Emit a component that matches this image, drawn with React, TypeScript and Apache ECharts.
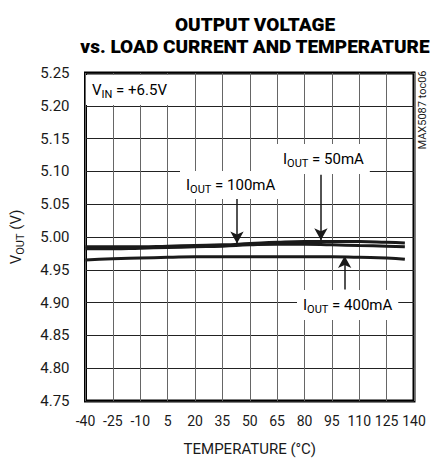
import React, { useEffect, useRef } from "react";
import * as echarts from "echarts";

const temps = [-40, -25, -10, 5, 20, 35, 50, 65, 80, 95, 110, 125, 135];
const v50mA = [4.985, 4.985, 4.985, 4.986, 4.987, 4.988, 4.990, 4.992, 4.993, 4.993, 4.993, 4.992, 4.991];
const v100mA = [4.982, 4.982, 4.983, 4.984, 4.985, 4.986, 4.988, 4.989, 4.989, 4.988, 4.987, 4.986, 4.985];
const v400mA = [4.965, 4.967, 4.968, 4.969, 4.970, 4.970, 4.970, 4.970, 4.970, 4.970, 4.969, 4.968, 4.966];

const titleLines = ["OUTPUT VOLTAGE", "vs. LOAD CURRENT AND TEMPERATURE"];
const xName = "TEMPERATURE (°C)";
const watermark = "MAX5087 toc06";

const FONT = "Roboto, 'Liberation Sans Narrow', sans-serif";
const INK = "#1a1a1a";

const subRich = {
  a: { fontSize: 15, fontFamily: FONT, color: INK, lineHeight: 20, verticalAlign: "middle" as const },
  s: { fontSize: 11, fontFamily: FONT, color: INK, lineHeight: 20, verticalAlign: "bottom" as const },
};

function arrowLine(from: [number, number], to: [number, number]) {
  return {
    silent: true,
    symbol: ["none", "arrow"],
    symbolSize: [10, 12],
    label: { show: false },
    lineStyle: { color: INK, width: 1.5, type: "solid" },
    data: [[{ coord: from }, { coord: to }]],
  };
}

export default function App() {
  const ref = useRef<HTMLDivElement>(null);
  useEffect(() => {
    if (!ref.current) return;
    const chart = echarts.init(ref.current, undefined, { renderer: "svg" });
    const mk = (vals: number[]) => temps.map((t, i) => [t, vals[i]]);
    chart.setOption({
      animation: false,
      backgroundColor: "#fff",
      title: {
        text: titleLines.join("\n"),
        left: 250,
        textAlign: "center",
        top: 8,
        textStyle: { fontFamily: FONT, fontWeight: 900, fontSize: 19, lineHeight: 22, color: "#000" },
      },
      grid: {
        left: 85,
        right: 22,
        top: 73,
        bottom: 59,
        show: true,
        borderColor: "#000",
        borderWidth: 3,
        containLabel: false,
      },
      xAxis: {
        type: "value",
        min: -40,
        max: 140,
        interval: 15,
        name: xName,
        nameLocation: "middle",
        nameGap: 40,
        nameTextStyle: { fontFamily: FONT, fontSize: 15, color: INK },
        axisLine: { show: false },
        axisTick: { show: false },
        axisLabel: { fontFamily: FONT, fontSize: 14, color: INK, margin: 13 },
        splitLine: { show: true, lineStyle: { color: "#666", width: 1 } },
      },
      yAxis: {
        type: "value",
        min: 4.75,
        max: 5.25,
        interval: 0.05,
        name: "{a|V}{s|OUT}{a| (V)}",
        nameLocation: "middle",
        nameRotate: 90,
        nameGap: 60,
        nameTextStyle: { rich: subRich },
        axisLine: { show: false },
        axisTick: { show: false },
        axisLabel: {
          fontFamily: FONT,
          fontSize: 15,
          color: INK,
          margin: 16,
          formatter: (v: number) => v.toFixed(2),
        },
        splitLine: { show: true, lineStyle: { color: "#222", width: 1 } },
      },
      series: [
        {
          name: "50mA",
          type: "line",
          data: mk(v50mA),
          smooth: true,
          showSymbol: false,
          symbol: "none",
          lineStyle: { color: INK, width: 3 },
          markLine: arrowLine([89, 5.095], [89, 4.995]),
        },
        {
          name: "100mA",
          type: "line",
          data: mk(v100mA),
          smooth: true,
          showSymbol: false,
          symbol: "none",
          lineStyle: { color: INK, width: 3 },
          markLine: arrowLine([43, 5.060], [43, 4.990]),
        },
        {
          name: "400mA",
          type: "line",
          data: mk(v400mA),
          smooth: true,
          showSymbol: false,
          symbol: "none",
          lineStyle: { color: INK, width: 3 },
          markLine: arrowLine([102, 4.920], [102, 4.971]),
        },
      ],
      graphic: [
        {
          type: "text",
          z: 100,
          left: 86,
          top: 75,
          style: {
            text: "{a|V}{s|IN}{a| = +6.5V}",
            rich: subRich,
            backgroundColor: "#fff",
            padding: [5, 5, 5, 6],
          },
        },
        {
          type: "text",
          z: 100,
          left: 180,
          top: 171,
          style: {
            text: "{a|I}{s|OUT}{a| = 100mA}",
            rich: subRich,
            backgroundColor: "#fff",
            padding: [4, 5, 4, 6],
          },
        },
        {
          type: "text",
          z: 100,
          left: 277,
          top: 144,
          style: {
            text: "{a|I}{s|OUT}{a| = 50mA}",
            rich: subRich,
            backgroundColor: "#fff",
            padding: [5, 6, 5, 6],
          },
        },
        {
          type: "text",
          z: 100,
          left: 297,
          top: 290,
          style: {
            text: "{a|I}{s|OUT}{a| = 400mA}",
            rich: subRich,
            backgroundColor: "#fff",
            padding: [5, 6, 5, 6],
          },
        },
        {
          type: "text",
          z: 100,
          x: 422,
          y: 110,
          rotation: Math.PI / 2,
          style: {
            text: watermark,
            fontFamily: FONT,
            fontSize: 11,
            fill: "#222",
            align: "center",
            verticalAlign: "middle",
          },
        },
      ],
    });
    return () => chart.dispose();
  }, []);
  return <div ref={ref} style={{ width: 436, height: 461, position: "absolute", left: 0, top: 0 }} />;
}
